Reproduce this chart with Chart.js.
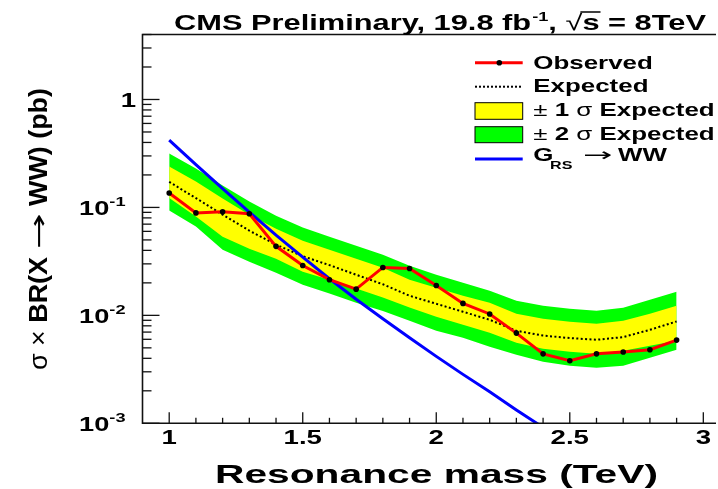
<!DOCTYPE html>
<html>
<head>
<meta charset="utf-8">
<script src="https://cdn.jsdelivr.net/npm/chart.js@4.4.1/dist/chart.umd.min.js"></script>
<style>
  html, body { margin: 0; padding: 0; background: #fff; }
  #chart { display: block; }
</style>
</head>
<body>
<canvas id="chart" width="718" height="489"></canvas>
<script>
// resonance masses (TeV)
const masses = [1.0, 1.1, 1.2, 1.3, 1.4, 1.5, 1.6, 1.7, 1.8, 1.9, 2.0, 2.1, 2.2, 2.3, 2.4, 2.5, 2.6, 2.7, 2.8, 2.9];
// limits in pb
const observed = [0.136, 0.089, 0.091, 0.0875, 0.0436, 0.029, 0.0214, 0.0175, 0.0278, 0.0272, 0.0189, 0.0129, 0.0103, 0.00685, 0.0044, 0.0038, 0.0044, 0.00457, 0.0048, 0.0059];
const expected = [0.1724, 0.122, 0.0857, 0.0609, 0.0452, 0.0353, 0.0292, 0.0238, 0.0194, 0.0152, 0.0128, 0.0108, 0.0091, 0.0072, 0.0065, 0.00616, 0.00594, 0.00629, 0.00735, 0.00878];
const oneSigmaUp = [0.239, 0.1735, 0.1207, 0.0857, 0.0636, 0.0492, 0.0406, 0.0335, 0.0276, 0.0214, 0.018, 0.0152, 0.0131, 0.01035, 0.0093, 0.00872, 0.00836, 0.00891, 0.01035, 0.01228];
const oneSigmaDown = [0.1225, 0.0822, 0.0536, 0.0415, 0.0335, 0.0254, 0.0214, 0.0177, 0.0146, 0.0118, 0.00971, 0.00818, 0.0069, 0.00557, 0.0049, 0.0046, 0.0044, 0.00469, 0.00522, 0.00581];
const twoSigmaUp = [0.3155, 0.229, 0.1593, 0.1132, 0.0839, 0.065, 0.0536, 0.0442, 0.0365, 0.0288, 0.0238, 0.0201, 0.0169, 0.01366, 0.01228, 0.01151, 0.01103, 0.01176, 0.01395, 0.01656];
const twoSigmaDown = [0.0934, 0.0664, 0.0406, 0.0314, 0.0248, 0.0192, 0.0159, 0.0131, 0.011, 0.00891, 0.0072, 0.0062, 0.00511, 0.00431, 0.00371, 0.00341, 0.00327, 0.00341, 0.00404, 0.0048];
// G_RS -> WW theory curve
const gravitonMasses = [1.0, 1.1, 1.2, 1.3, 1.4, 1.5, 1.6, 1.7, 1.8, 1.9, 2.0, 2.1, 2.2, 2.3, 2.4];
const graviton = [0.4193, 0.2494, 0.1494, 0.0904, 0.0553, 0.0346, 0.02185, 0.0141, 0.0093, 0.0062, 0.00417, 0.00284, 0.00196, 0.00133, 0.000916];

// axis ticks
const xMajorTicks = [1, 1.5, 2, 2.5, 3];
const xTickLabels = ["1", "1.5", "2", "2.5", "3"];
const xMinorTicks = [1.1, 1.2, 1.3, 1.4, 1.6, 1.7, 1.8, 1.9, 2.1, 2.2, 2.3, 2.4, 2.6, 2.7, 2.8, 2.9];
const yMajorTicks = [1, 0.1, 0.01, 0.001];
const yTickExps = ["", "-1", "-2", "-3"];
const yMinorTicks = [];
for (const d of [0.001, 0.01, 0.1, 1]) {
  for (let k = 2; k <= 9; k++) if (k * d <= 4) yMinorTicks.push(k * d);
}

const FONT = '"Liberation Sans", Arial, Helvetica, sans-serif';
const ARROW_FONT = '"DejaVu Sans", sans-serif';
const SX = 1.4; // text in the original is drawn wide

const toPoints = (xs, ys) => ys.map((y, i) => ({ x: xs[i], y }));

function measure(ctx, s, size, weight, sx, family = FONT) {
  ctx.font = `${weight} ${size}px ${family}`;
  return ctx.measureText(s).width * sx;
}

function txt(ctx, s, x, y, size, opts = {}) {
  const weight = opts.weight || "bold";
  const sx = opts.sx || SX;
  const family = opts.family || FONT;
  const w = measure(ctx, s, size, weight, sx, family);
  let x0 = x;
  if (opts.align === "center") x0 = x - w / 2;
  else if (opts.align === "right") x0 = x - w;
  ctx.save();
  ctx.translate(x0, y);
  ctx.scale(sx, 1);
  ctx.textAlign = "left";
  ctx.textBaseline = "alphabetic";
  ctx.fillStyle = opts.color || "#000";
  ctx.fillText(s, 0, 0);
  ctx.restore();
  return w;
}

function line(ctx, x1, y1, x2, y2) {
  ctx.beginPath();
  ctx.moveTo(x1, y1);
  ctx.lineTo(x2, y2);
  ctx.stroke();
}

const decorations = {
  id: "decorations",
  afterDatasetsDraw(chart) {
    const { ctx, chartArea: a, scales: { x, y } } = chart;
    ctx.save();

    // frame
    ctx.strokeStyle = "#111";
    ctx.lineWidth = 1.6;
    ctx.beginPath();
    ctx.moveTo(a.right + 2, a.top);
    ctx.lineTo(a.left, a.top);
    ctx.lineTo(a.left, a.bottom);
    ctx.lineTo(a.right + 2, a.bottom);
    ctx.stroke();

    // ticks pointing inwards
    ctx.lineWidth = 1.3;
    xMajorTicks.forEach((v) => { const px = x.getPixelForValue(v); line(ctx, px, a.bottom, px, a.bottom - 11); });
    xMinorTicks.forEach((v) => { const px = x.getPixelForValue(v); line(ctx, px, a.bottom, px, a.bottom - 5.5); });
    yMajorTicks.forEach((v) => { const py = y.getPixelForValue(v); line(ctx, a.left, py, a.left + 17, py); });
    yMinorTicks.forEach((v) => { const py = y.getPixelForValue(v); line(ctx, a.left, py, a.left + 9, py); });

    // x tick labels
    xMajorTicks.forEach((v, i) => {
      txt(ctx, xTickLabels[i], x.getPixelForValue(v), 444, 20, { align: "center", sx: 1.38 });
    });

    // y tick labels
    yMajorTicks.forEach((v, i) => {
      const py = y.getPixelForValue(v);
      if (!yTickExps[i]) {
        txt(ctx, "1", 136, py + 8, 20, { align: "right", sx: 1.38 });
        return;
      }
      const wExp = measure(ctx, yTickExps[i], 13, "bold", 1.4);
      const wBase = measure(ctx, "10", 20, "bold", 1.36);
      const x0 = 125.5 - wExp - wBase;
      txt(ctx, "10", x0, py + 7.5, 20, { sx: 1.36 });
      txt(ctx, yTickExps[i], x0 + wBase, py - 1, 13, { sx: 1.4 });
    });

    // x title
    {
      const s = "Resonance mass (TeV)";
      const sx = 443 / measure(ctx, s, 26, "bold", 1);
      txt(ctx, s, 215, 483, 26, { sx });
    }

    // y title, rotated
    {
      const size = 25;
      const segs = [
        ["σ", "normal", FONT, 1],
        [" × ", "normal", FONT, 1],
        ["BR(X ", "bold", FONT, 1],
        ["→", "normal", ARROW_FONT, 1.6],
        [" WW) (pb)", "bold", FONT, 1],
      ];
      const natural = segs.reduce((t, [s, w, f, k]) => t + measure(ctx, s, size, w, k, f), 0);
      const sx = 282 / natural;
      ctx.save();
      ctx.translate(47, 370);
      ctx.rotate(-Math.PI / 2);
      let cx = 0;
      segs.forEach(([s, w, f, k]) => {
        cx += txt(ctx, s, cx, 0, size, { weight: w, family: f, sx: sx * k });
      });
      ctx.restore();
    }

    // title
    {
      let cx = 174;
      const base = 30;
      cx += txt(ctx, "CMS Preliminary, 19.8 fb", cx, base, 22);
      cx += txt(ctx, "-1", cx + 1, base - 9, 13) + 1;
      cx += txt(ctx, ", ", cx, base, 22);
      cx += txt(ctx, "√", cx, base, 22, { weight: "normal" });
      const sw = txt(ctx, "s", cx, base, 22);
      ctx.lineWidth = 1.5;
      ctx.strokeStyle = "#000";
      line(ctx, cx - 2, base - 18, cx + sw + 1, base - 18);
      cx += sw;
      txt(ctx, " = 8TeV", cx, base, 22);
    }

    // legend
    {
      const lx1 = 475, lx2 = 522.7, tx = 533.3, size = 18.5;
      ctx.lineWidth = 3;
      ctx.strokeStyle = "#ff0000";
      line(ctx, lx1, 62.7, lx2, 62.7);
      ctx.fillStyle = "#000";
      ctx.beginPath();
      ctx.arc(499.3, 62.7, 2.8, 0, Math.PI * 2);
      ctx.fill();
      txt(ctx, "Observed", tx, 69.3, size);

      ctx.lineWidth = 2;
      ctx.strokeStyle = "#000";
      ctx.setLineDash([2, 2]);
      line(ctx, lx1, 86.7, lx2, 86.7);
      ctx.setLineDash([]);
      txt(ctx, "Expected", tx, 91.7, size);

      ctx.lineWidth = 1;
      ctx.fillStyle = "#ffff00";
      ctx.fillRect(lx1, 102.7, lx2 - lx1, 16.6);
      ctx.strokeRect(lx1, 102.7, lx2 - lx1, 16.6);
      let cx = tx;
      cx += txt(ctx, "±", cx, 116, size, { weight: "normal" });
      cx += txt(ctx, " 1 ", cx, 116, size);
      cx += txt(ctx, "σ", cx, 116, size, { weight: "normal" });
      txt(ctx, " Expected", cx, 116, size);

      ctx.fillStyle = "#00ff00";
      ctx.fillRect(lx1, 126.7, lx2 - lx1, 16);
      ctx.strokeRect(lx1, 126.7, lx2 - lx1, 16);
      cx = tx;
      cx += txt(ctx, "±", cx, 140, size, { weight: "normal" });
      cx += txt(ctx, " 2 ", cx, 140, size);
      cx += txt(ctx, "σ", cx, 140, size, { weight: "normal" });
      txt(ctx, " Expected", cx, 140, size);

      ctx.lineWidth = 3;
      ctx.strokeStyle = "#0000ff";
      line(ctx, lx1, 159, lx2, 159);
      txt(ctx, "G", tx, 160.7, size);
      txt(ctx, "RS", 550, 169, 11.5);
      txt(ctx, "→", 583, 160.7, size, { weight: "normal", family: ARROW_FONT, sx: 1.9 });
      txt(ctx, "WW", 618, 160.7, size);
    }

    ctx.restore();
  },
};

const noLine = "rgba(0,0,0,0)";

new Chart(document.getElementById("chart"), {
  type: "line",
  data: {
    datasets: [
      {
        label: "Observed",
        data: toPoints(masses, observed),
        borderColor: "#ff0000",
        borderWidth: 3,
        pointRadius: 2.8,
        pointBackgroundColor: "#000",
        pointBorderWidth: 0,
        fill: false,
      },
      {
        label: "G_RS -> WW",
        data: toPoints(gravitonMasses, graviton),
        borderColor: "#0000ff",
        borderWidth: 3,
        pointRadius: 0,
        fill: false,
      },
      {
        label: "Expected",
        data: toPoints(masses, expected),
        borderColor: "#000",
        borderWidth: 2,
        borderDash: [2, 2.4],
        pointRadius: 0,
        fill: false,
      },
      {
        label: "+1 sigma",
        data: toPoints(masses, oneSigmaUp),
        borderColor: noLine,
        backgroundColor: "#ffff00",
        pointRadius: 0,
        fill: "+1",
      },
      {
        label: "-1 sigma",
        data: toPoints(masses, oneSigmaDown),
        borderColor: noLine,
        pointRadius: 0,
        fill: false,
      },
      {
        label: "+2 sigma",
        data: toPoints(masses, twoSigmaUp),
        borderColor: noLine,
        backgroundColor: "#00ff00",
        pointRadius: 0,
        fill: "+1",
      },
      {
        label: "-2 sigma",
        data: toPoints(masses, twoSigmaDown),
        borderColor: noLine,
        pointRadius: 0,
        fill: false,
      },
    ],
  },
  options: {
    responsive: false,
    animation: false,
    events: [],
    layout: { padding: { left: 142.5, right: 0, top: 34.5, bottom: 65.7 } },
    elements: { line: { tension: 0 } },
    plugins: {
      legend: { display: false },
      tooltip: { enabled: false },
      title: { display: false },
    },
    scales: {
      x: { type: "linear", min: 0.9, max: 3.04, display: false },
      y: { type: "logarithmic", min: 0.001, max: 4, display: false },
    },
  },
  plugins: [decorations],
});
</script>
</body>
</html>
